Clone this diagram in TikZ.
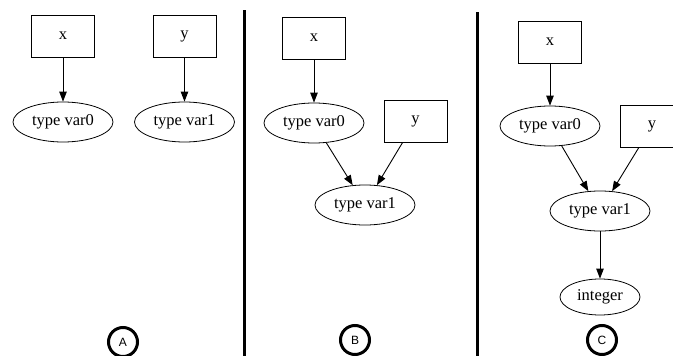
\documentclass[tikz,border=0pt]{standalone}
\usepackage{fontspec}
\setmainfont{Liberation Serif}
\newfontfamily\labelfont{Liberation Sans}
\usetikzlibrary{shapes.geometric,arrows.meta}
\tikzset{
  var/.style={draw, line width=0.8pt, rectangle, minimum width=63pt, minimum height=42pt, inner sep=0pt, font=\fontsize{16.5}{19}\selectfont},
  typ/.style={draw, line width=0.8pt, ellipse, minimum width=100pt, minimum height=40pt, inner sep=0pt, font=\fontsize{16.5}{19}\selectfont},
  small/.style={typ, minimum width=80pt, minimum height=36pt},
  edge/.style={line width=0.9pt, -{Triangle[length=10pt,width=7.5pt]}},
  tag/.style={draw, circle, line width=3pt, minimum size=29pt, inner sep=0pt, font=\labelfont\fontsize{12}{14}\selectfont},
  divider/.style={line width=3pt}
}
\begin{document}
\begin{tikzpicture}[x=1pt,y=-1pt]
  \clip (0,0) rectangle (673,356);
  \useasboundingbox (0,0) rectangle (673,356);

  % dividers between the three panels
  \coordinate (d1t) at (244,10);  \coordinate (d1b) at (244,356);
  \coordinate (d2t) at (477,12);  \coordinate (d2b) at (477,356);
  \draw[divider] (d1t) -- (d1b);
  \draw[divider] (d2t) -- (d2b);

  % panel A
  \node[var] (ax) at (63,36) {x};
  \node[var] (ay) at (184.5,36) {y};
  \node[typ] (a0) at (63,122) {type var0};
  \node[typ] (a1) at (184.5,122) {type var1};
  \draw[edge] (ax) -- (a0);
  \draw[edge] (ay) -- (a1);
  \node[tag] (ta) at (123,342) {A};

  % panel B
  \node[var] (bx) at (314,38) {x};
  \node[typ] (b0) at (314,123) {type var0};
  \node[var] (by) at (415.5,121) {y};
  \node[typ] (b1) at (365,205) {type var1};
  \draw[edge] (bx) -- (b0);
  \draw[edge] (b0) -- (b1);
  \draw[edge] (by) -- (b1);
  \node[tag] (tb) at (355,340) {B};

  % panel C
  \node[var] (cx) at (550,42) {x};
  \node[typ] (c0) at (550,126) {type var0};
  \node[var] (cy) at (652,126) {y};
  \node[typ] (c1) at (600,211) {type var1};
  \node[small] (ci) at (600,297) {integer};
  \draw[edge] (cx) -- (c0);
  \draw[edge] (c0) -- (c1);
  \draw[edge] (cy) -- (c1);
  \draw[edge] (c1) -- (ci);
  \node[tag] (tc) at (602,340) {C};
\end{tikzpicture}
\end{document}
